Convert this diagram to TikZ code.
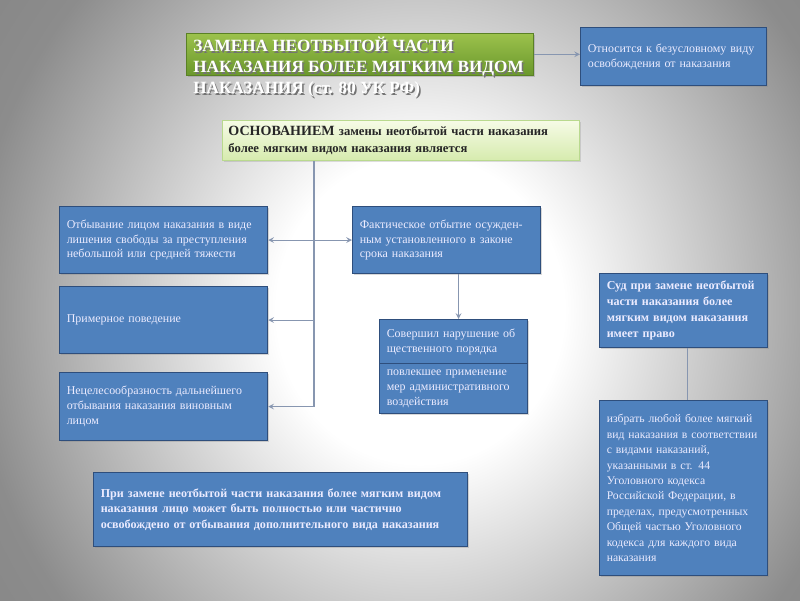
\documentclass[tikz,border=0pt]{standalone}
\usepackage{fontspec}
\setmainfont{Liberation Serif}
\usepackage{tikz}
\usetikzlibrary{arrows,shadows}
\definecolor{boxblue}{HTML}{4F81BD}
\definecolor{boxedge}{HTML}{2E4E7C}
\definecolor{linkgray}{HTML}{8796B0}
\definecolor{titletop}{HTML}{9CC24C}
\definecolor{titlebot}{HTML}{6A982C}
\definecolor{basetop}{HTML}{F6FBE6}
\definecolor{basebot}{HTML}{D6EBAE}
\definecolor{baseedge}{HTML}{B9D98E}
\definecolor{bgedge}{HTML}{8C8C8C}
\definecolor{bgcorner}{HTML}{6E6E6E}
\pgfdeclareradialshading{bgglow}{\pgfpoint{0bp}{0bp}}{color(0bp)=(white); color(8bp)=(white); color(25bp)=(bgedge); color(50bp)=(bgcorner)}
\tikzset{
  bluebox/.style={draw=boxedge, line width=0.8pt, fill=boxblue, text=white!92!blue,
    anchor=north west, align=left, inner xsep=0.18cm, inner ysep=0pt,
    font=\fontsize{8.5}{10.6}\selectfont,
    drop shadow={shadow xshift=1.2pt, shadow yshift=-1.2pt, opacity=0.3}},
  boldbox/.style={bluebox, font=\bfseries\fontsize{8.6}{11.2}\selectfont},
  titlebox/.style={anchor=north west, inner sep=0pt, draw=titlebot!85!black, line width=0.4pt,
    top color=titletop, bottom color=titlebot,
    drop shadow={shadow xshift=1.5pt, shadow yshift=-1.5pt, opacity=0.35}},
  basebox/.style={anchor=north west, draw=baseedge, line width=0.6pt, top color=basetop, bottom color=basebot,
    align=left, inner xsep=0.15cm, inner ysep=0pt, text=black!85,
    font=\bfseries\fontsize{9}{12.6}\selectfont,
    drop shadow={shadow xshift=1.2pt, shadow yshift=-1.2pt, opacity=0.25}},
  link/.style={draw=linkgray, line width=0.8pt},
}
\begin{document}
\begin{tikzpicture}[x=0.025cm, y=-0.025cm, >=stealth]
% background
\begin{scope}
  \clip (0,0) rectangle (800,600);
  \shade[shading=bgglow] (-30,-170) rectangle (870,790);
\end{scope}
\useasboundingbox (0,0) rectangle (800,600);

% title
\node[titlebox, minimum width=8.675cm, minimum height=1.05cm] (title) at (186,33) {};
\node[anchor=north west, inner sep=0pt, align=left, text=black!55,
      font=\bfseries\fontsize{12.2}{14.8}\selectfont] (title shadow) at (194.5,38.5)
  {ЗАМЕНА НЕОТБЫТОЙ ЧАСТИ\\НАКАЗАНИЯ БОЛЕЕ МЯГКИМ ВИДОМ\\НАКАЗАНИЯ (ст. 80 УК РФ)};
\node[anchor=north west, inner sep=0pt, align=left, text=white,
      font=\bfseries\fontsize{12.2}{14.8}\selectfont] (title text) at (193,37)
  {ЗАМЕНА НЕОТБЫТОЙ ЧАСТИ\\НАКАЗАНИЯ БОЛЕЕ МЯГКИМ ВИДОМ\\НАКАЗАНИЯ (ст. 80 УК РФ)};

% kind of release
\node[bluebox, text width=4.29cm, minimum height=1.45cm] (kind) at (580,27)
  {Относится к безусловному виду\\освобождения от наказания};

% grounds
\node[basebox, text width=8.625cm, minimum height=1.0cm] (osn) at (222,120)
  {{\fontsize{10}{12.6}\selectfont ОСНОВАНИЕМ} замены неотбытой части наказания\\более мягким видом наказания является};

% left column
\node[bluebox, text width=4.84cm, minimum height=1.675cm] (serve) at (59,206)
  {Отбывание лицом наказания в виде\\лишения свободы за преступления\\небольшой или средней тяжести};
\node[bluebox, text width=4.84cm, minimum height=1.675cm] (conduct) at (59,286)
  {Примерное поведение};
\node[bluebox, text width=4.84cm, minimum height=1.7cm] (needless) at (59,372)
  {Нецелесообразность дальнейшего\\отбывания наказания виновным\\лицом};

% middle column
\node[bluebox, text width=4.34cm, minimum height=1.675cm] (term) at (352,206)
  {Фактическое отбытие осужден-\\ным установленного в законе\\срока наказания};
\node[bluebox, text width=3.34cm, minimum height=1.1cm] (breach) at (379,319)
  {Совершил нарушение об\\щественного порядка};
\node[bluebox, text width=3.34cm, minimum height=1.25cm] (admin) at (379,363)
  {повлекшее применение\\мер административного\\воздействия};

% right column
\node[boldbox, text width=3.84cm, minimum height=1.85cm] (court) at (599,273)
  {Суд при замене неотбытой\\части наказания более\\мягким видом наказания\\имеет право};
\node[bluebox, text width=3.84cm, minimum height=4.375cm,
      font=\fontsize{8.3}{11}\selectfont] (choose) at (599,400)
  {избрать любой более мягкий\\вид наказания в соответствии\\с видами наказаний,\\указанными в ст. 44\\Уголовного кодекса\\Российской Федерации, в\\пределах, предусмотренных\\Общей частью Уголовного\\кодекса для каждого вида\\наказания};

% additional punishment
\node[boldbox, text width=8.99cm, minimum height=1.85cm] (extra) at (93,472)
  {При замене неотбытой части наказания более мягким видом\\наказания лицо может быть полностью или частично\\освобождено от отбывания дополнительного вида наказания};

% links
\draw[link,->] (title.east) -- (title.east -| kind.west);
\coordinate (trunk) at (314,160);
\draw[link] (osn.south -| trunk) -- (trunk |- needless.east);
\draw[link,->] (trunk |- serve.east) -- (serve.east);
\draw[link,->] (trunk |- serve.east) -- (term.west);
\draw[link,->] (trunk |- conduct.east) -- (conduct.east);
\draw[link,->] (trunk |- needless.east) -- (needless.east);
\draw[link,->] ([xshift=0.3cm]term.south) -- ([xshift=0.3cm]term.south |- breach.north);
\draw[link] ([xshift=0.1cm]court.south) -- ([xshift=0.1cm]court.south |- choose.north);

\end{tikzpicture}
\end{document}
